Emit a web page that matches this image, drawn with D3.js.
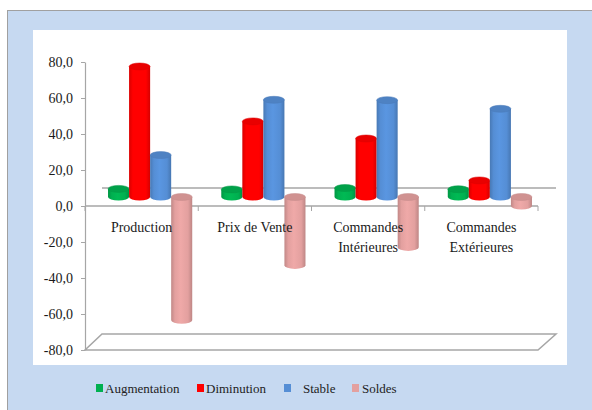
<!DOCTYPE html>
<html><head><meta charset="utf-8">
<script src="https://cdn.jsdelivr.net/npm/d3@7"></script>
<style>body{margin:0;background:#fff} svg{display:block} text{font-family:"Liberation Serif","DejaVu Serif",serif !important;}</style>
</head><body><svg id="c" width="592" height="410"></svg>
<script>
// ---- data ----
const categories = ["Production", "Prix de Vente", "Commandes Intérieures", "Commandes Extérieures"];
const series = ["Augmentation", "Diminution", "Stable", "Soldes"];
const augmentation = [4.5, 4.2, 5.0, 4.3];
const diminution   = [72.5, 42.0, 32.5, 9.2];
const stable       = [23.3, 54.0, 53.8, 49.0];
const soldes       = [-68.5, -38.0, -28.0, -5.0];
const yTicks = [-80, -60, -40, -20, 0, 20, 40, 60, 80];
const seriesColors = ["#00b050", "#ff0000", "#558ed5", "#e3a09f"];

const values = [augmentation, diminution, stable, soldes];

// ---- layout ----
const W = 592, H = 410;
const svg = d3.select("#c");
const plotL = 85, plotR = 538, plotT = 62, plotB = 350;
const depth = {dx: 17, dy: -18};
const barShift = {dx: 8.5, dy: -9};
const gray = "#a6a6a6";

svg.append("rect").attr("x", 0).attr("y", 0).attr("width", W).attr("height", H).attr("fill", "#fff");
svg.append("rect").attr("x", 7.5).attr("y", 10.5).attr("width", W).attr("height", H)
  .attr("fill", "#c6d9f1").attr("stroke", "#a0a0a0").attr("stroke-width", 1);
svg.append("rect").attr("x", 33).attr("y", 30).attr("width", 534).attr("height", 335).attr("fill", "#fff");

const y = d3.scaleLinear().domain([-80, 80]).range([plotB, plotT]);
const x = d3.scaleBand().domain(categories).range([plotL, plotR]).padding(0);
const xs = d3.scaleBand().domain(series).range([0, x.bandwidth()]).paddingInner(0).paddingOuter(0.69);

const defs = svg.append("defs");
function shade(c, k) { return d3.color(c).darker(k).formatHex(); }
function light(c, k) { return d3.color(c).brighter(k).formatHex(); }
series.forEach((s, i) => {
  const c = seriesColors[i];
  const g = defs.append("linearGradient").attr("id", "g" + i).attr("x1", 0).attr("x2", 1).attr("y1", 0).attr("y2", 0);
  g.append("stop").attr("offset", 0).attr("stop-color", shade(c, 0.45));
  g.append("stop").attr("offset", 0.18).attr("stop-color", c);
  g.append("stop").attr("offset", 0.45).attr("stop-color", light(c, 0.15));
  g.append("stop").attr("offset", 0.8).attr("stop-color", c);
  g.append("stop").attr("offset", 1).attr("stop-color", shade(c, 0.5));
});

// floor at -80
const y0f = y(-80);
const floorDy = -16;
svg.append("path")
  .attr("d", `M${plotL},${y0f} L${plotR},${y0f} L${plotR + depth.dx + 1},${y0f + floorDy} L${plotL + depth.dx},${y0f + floorDy} Z`)
  .attr("fill", "none").attr("stroke", gray).attr("stroke-width", 1.5);

// back zero line
svg.append("line").attr("x1", plotL + depth.dx).attr("x2", plotR + depth.dx + 1)
  .attr("y1", y(0) + depth.dy).attr("y2", y(0) + depth.dy).attr("stroke", gray).attr("stroke-width", 1.5);

// y axis
const fmt = d3.formatLocale({decimal: ",", thousands: " ", grouping: [3], currency: ["", ""], minus: "-"}).format(".1f");
const yAxis = svg.append("g").attr("transform", `translate(${plotL},0)`)
  .call(d3.axisLeft(y).tickValues(yTicks).tickSize(4).tickSizeOuter(0).tickPadding(8).tickFormat(fmt));
yAxis.select(".domain").attr("stroke", gray).attr("stroke-width", 1.2);
yAxis.selectAll(".tick line").attr("stroke", gray);
yAxis.selectAll("text").attr("font-size", 14).attr("fill", "#1a1a1a");

// front zero line with category ticks
svg.append("line").attr("x1", plotL).attr("x2", plotR).attr("y1", y(0)).attr("y2", y(0))
  .attr("stroke", gray).attr("stroke-width", 1.5);
const bounds = categories.map(c => x(c)).concat([x(categories[categories.length - 1]) + x.bandwidth()]);
svg.selectAll(".ctick").data(bounds).enter().append("line")
  .attr("x1", d => d).attr("x2", d => d).attr("y1", y(0)).attr("y2", y(0) + 5)
  .attr("stroke", gray).attr("stroke-width", 1);

// bars (cylinders)
const ry = 3.5;
const bars = [];
categories.forEach((c, ci) => {
  series.forEach((s, si) => bars.push({c, s, si, v: values[si][ci]}));
});
const gBars = svg.append("g");
bars.forEach(b => {
  const rx = xs.bandwidth() / 2;
  const cx = x(b.c) + xs(b.s) + rx + barShift.dx;
  const base = y(0) + barShift.dy;
  const yv = y(b.v) + barShift.dy;
  const yTop = Math.min(base, yv), yBot = Math.max(base, yv);
  const c = seriesColors[b.si];
  gBars.append("path")
    .attr("d", `M${cx - rx},${yTop} L${cx - rx},${yBot} A${rx},${ry} 0 0 0 ${cx + rx},${yBot} L${cx + rx},${yTop} Z`)
    .attr("fill", `url(#g${b.si})`);
  gBars.append("ellipse").attr("cx", cx).attr("cy", yTop).attr("rx", rx).attr("ry", ry)
    .attr("fill", shade(c, 0.25)).attr("stroke", shade(c, 0.4)).attr("stroke-width", 0.5);
});

// category labels
const catG = svg.append("g").attr("font-size", 14).attr("fill", "#1a1a1a");
categories.forEach(c => {
  const t = catG.append("text").attr("x", x(c) + x.bandwidth() / 2).attr("y", 232).attr("text-anchor", "middle");
  const words = c.split(" ");
  let line = [], lines = [];
  const probe = catG.append("text").attr("visibility", "hidden");
  words.forEach(w => {
    const test = line.concat([w]).join(" ");
    probe.text(test);
    if (probe.node().getComputedTextLength() > 100 && line.length) { lines.push(line.join(" ")); line = [w]; }
    else line.push(w);
  });
  lines.push(line.join(" "));
  probe.remove();
  lines.forEach((l, i) => t.append("tspan").attr("x", x(c) + x.bandwidth() / 2).attr("dy", i ? 20 : 0).text(l));
});

// legend
const legSquareX = [96, 197, 284, 352];
const legTextX = [105, 206, 303, 362];
const legG = svg.append("g").attr("font-size", 13).attr("fill", "#222");
series.forEach((s, i) => {
  legG.append("rect").attr("x", legSquareX[i]).attr("y", 384).attr("width", 7).attr("height", 8).attr("fill", seriesColors[i]);
  legG.append("text").attr("x", legTextX[i]).attr("y", 393).text(s);
});
</script></body></html>
